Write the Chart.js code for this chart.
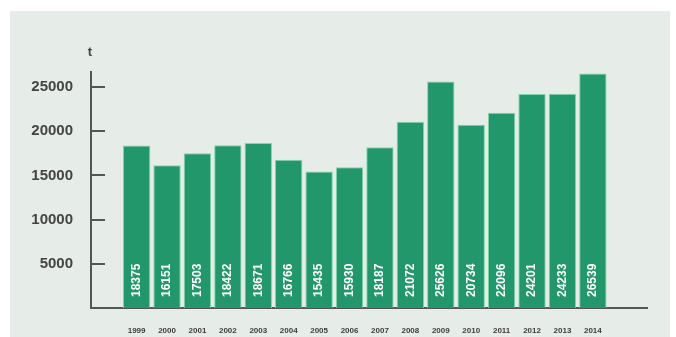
<!DOCTYPE html>
<html>
<head>
<meta charset="utf-8">
<script src="https://cdn.jsdelivr.net/npm/chart.js@4"></script>
<style>
  html, body { margin: 0; padding: 0; background: #ffffff; }
  #wrap { width: 676px; height: 337px; }
</style>
</head>
<body>
<div id="wrap"><canvas id="barChart" width="676" height="337"></canvas></div>
<script>
/* ========= DATA ========= */

const years = [
  "1999", "2000", "2001", "2002", "2003", "2004", "2005", "2006",
  "2007", "2008", "2009", "2010", "2011", "2012", "2013", "2014"
];
const tonnes = [
  18375, 16151, 17503, 18422, 18671, 16766, 15435, 15930,
  18187, 21072, 25626, 20734, 22096, 24201, 24233, 26539
];
const yTicks = [5000, 10000, 15000, 20000, 25000];
const unitLabel = "t";

/* ========= PLUGINS ========= */

// light panel behind the chart
const panelBg = {
  id: "panelBg",
  beforeDraw(chart) {
    const ctx = chart.ctx;
    ctx.save();
    ctx.fillStyle = "#ffffff";
    ctx.fillRect(0, 0, chart.width, chart.height);
    ctx.fillStyle = "#e6ece7";
    ctx.fillRect(10, 11, 660, 326);
    ctx.restore();
  }
};

// inward ticks on the y axis, unit label, values inside bars
const extras = {
  id: "extras",
  afterDatasetsDraw(chart) {
    const ctx = chart.ctx;
    const y = chart.scales.y;
    const left = chart.chartArea.left;
    ctx.save();
    ctx.strokeStyle = "#555555";
    ctx.lineWidth = 2;
    yTicks.forEach(v => {
      const py = Math.round(y.getPixelForValue(v));
      ctx.beginPath();
      ctx.moveTo(left, py);
      ctx.lineTo(left + 14, py);
      ctx.stroke();
    });

    ctx.fillStyle = "#444444";
    ctx.font = "bold 13px 'Liberation Sans', Arial, sans-serif";
    ctx.textAlign = "center";
    ctx.textBaseline = "middle";
    ctx.fillText(unitLabel, left - 1, 52);

    const meta = chart.getDatasetMeta(0);
    ctx.fillStyle = "#ffffff";
    ctx.font = "bold 12px 'Liberation Sans', Arial, sans-serif";
    ctx.textAlign = "left";
    meta.data.forEach((bar, i) => {
      ctx.save();
      ctx.translate(bar.x, bar.base - 11);
      ctx.rotate(-Math.PI / 2);
      ctx.fillText(String(tonnes[i]), 0, 0);
      ctx.restore();
    });
    ctx.restore();
  }
};

/* ========= BAR CHART ========= */

const ctx = document.getElementById("barChart");

new Chart(ctx, {
  type: "bar",
  data: {
    datasets: [{
      data: tonnes.map((v, i) => ({ x: i, y: v })),
      backgroundColor: "#22976b",
      borderColor: "#7fd6ab",
      borderWidth: 1,
      borderSkipped: "bottom",
      categoryPercentage: 1,
      barPercentage: 0.9
    }]
  },
  options: {
    responsive: false,
    animation: false,
    layout: { padding: { left: 0, right: 29, top: 72, bottom: 0 } },
    plugins: {
      legend: { display: false },
      tooltip: { enabled: false }
    },
    scales: {
      x: {
        type: "linear",
        offset: false,
        min: -1.5,
        max: 16.78,
        grid: { display: false },
        border: { display: true, color: "#555555", width: 2 },
        afterBuildTicks(scale) {
          scale.ticks = years.map((_, i) => ({ value: i }));
        },
        ticks: {
          autoSkip: false,
          maxRotation: 0,
          padding: 10,
          color: "#3d3d3d",
          font: { family: "'Liberation Sans', Arial, sans-serif", size: 8, weight: "bold" },
          callback: v => years[v] || ""
        },
        afterFit(scale) { scale.height = 29; }
      },
      y: {
        min: 0,
        max: 26700,
        grid: { display: false },
        border: { display: true, color: "#555555", width: 2 },
        afterBuildTicks(scale) {
          scale.ticks = yTicks.map(v => ({ value: v }));
        },
        ticks: {
          padding: 10,
          color: "#444444",
          font: { family: "'Liberation Sans', Arial, sans-serif", size: 15, weight: "bold" },
          callback: v => String(v)
        },
        afterFit(scale) { scale.width = 91; }
      }
    }
  },
  plugins: [panelBg, extras]
});
</script>
</body>
</html>
